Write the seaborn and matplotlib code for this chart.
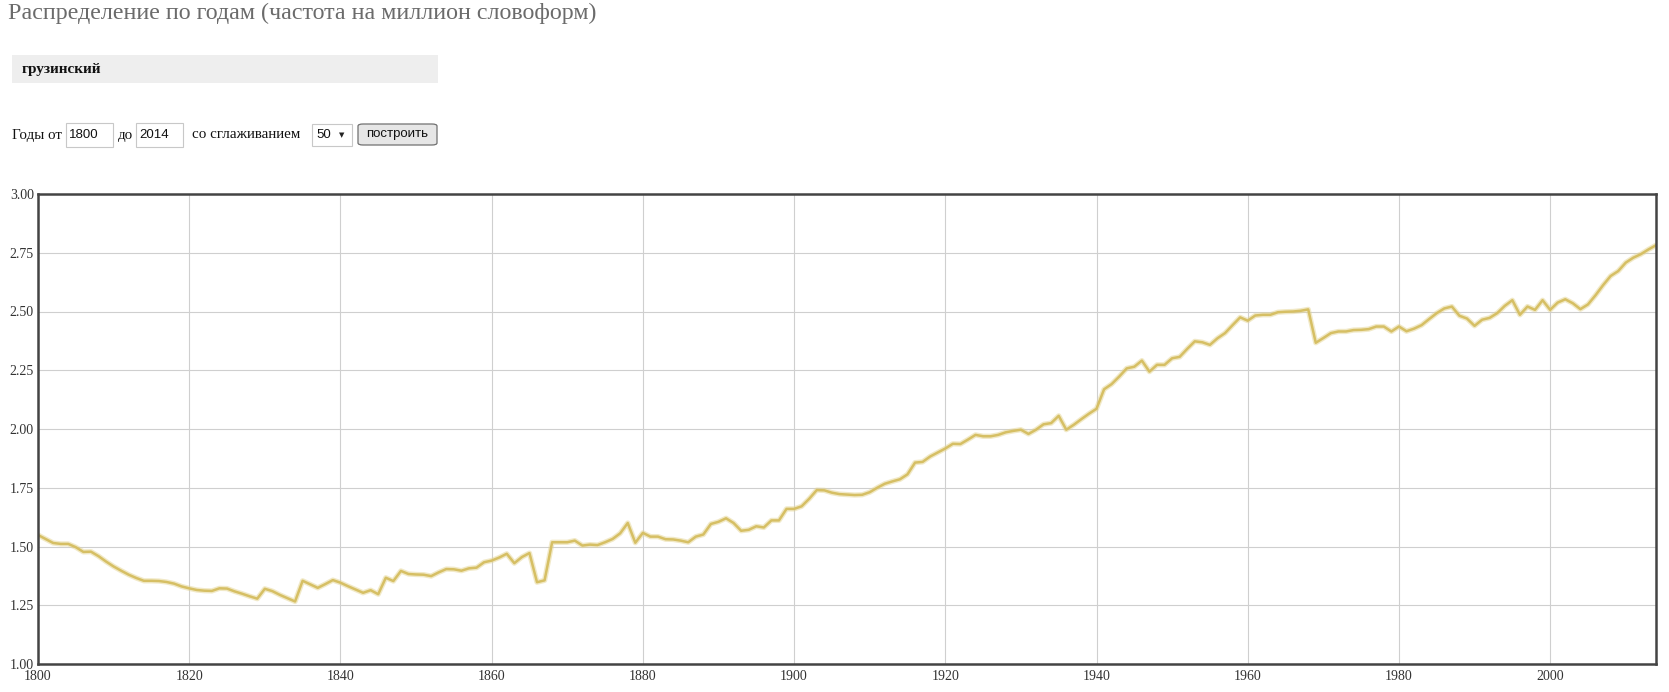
import numpy as np
import pandas as pd
import seaborn as sns
import matplotlib
matplotlib.use("Agg")
import matplotlib.pyplot as plt
from matplotlib.patches import Rectangle, FancyBboxPatch

# data (frequency per million word forms, smoothing 50)
years = list(range(1800, 2015))
freq = [
    1.549, 1.532, 1.515, 1.511, 1.511, 1.497, 1.477, 1.478, 1.459, 1.436,  # 1800s
    1.415, 1.397, 1.380, 1.366, 1.354, 1.354, 1.353, 1.349, 1.342, 1.330,  # 1810s
    1.322, 1.315, 1.312, 1.311, 1.322, 1.321, 1.309, 1.299, 1.288, 1.278,  # 1820s
    1.320, 1.310, 1.294, 1.280, 1.266, 1.354, 1.339, 1.324, 1.340, 1.357,  # 1830s
    1.346, 1.331, 1.317, 1.303, 1.314, 1.297, 1.367, 1.353, 1.396, 1.383,  # 1840s
    1.381, 1.380, 1.374, 1.390, 1.404, 1.403, 1.397, 1.407, 1.410, 1.433,  # 1850s
    1.440, 1.453, 1.469, 1.429, 1.455, 1.472, 1.348, 1.356, 1.518, 1.518,  # 1860s
    1.518, 1.525, 1.504, 1.508, 1.506, 1.518, 1.532, 1.556, 1.600, 1.516,  # 1870s
    1.558, 1.542, 1.542, 1.531, 1.530, 1.525, 1.518, 1.542, 1.551, 1.596,  # 1880s
    1.605, 1.620, 1.600, 1.567, 1.571, 1.586, 1.581, 1.611, 1.611, 1.660,  # 1890s
    1.660, 1.671, 1.703, 1.740, 1.739, 1.729, 1.723, 1.721, 1.719, 1.720,  # 1900s
    1.731, 1.750, 1.767, 1.777, 1.786, 1.807, 1.857, 1.860, 1.883, 1.900,  # 1910s
    1.917, 1.937, 1.936, 1.955, 1.975, 1.969, 1.969, 1.975, 1.986, 1.992,  # 1920s
    1.997, 1.979, 1.997, 2.020, 2.025, 2.056, 1.997, 2.018, 2.042, 2.065,  # 1930s
    2.086, 2.169, 2.191, 2.223, 2.258, 2.265, 2.291, 2.244, 2.273, 2.273,  # 1940s
    2.301, 2.307, 2.341, 2.373, 2.369, 2.358, 2.386, 2.408, 2.442, 2.475,  # 1950s
    2.461, 2.483, 2.486, 2.486, 2.497, 2.499, 2.500, 2.503, 2.509, 2.367,  # 1960s
    2.387, 2.408, 2.415, 2.415, 2.421, 2.422, 2.425, 2.436, 2.436, 2.415,  # 1970s
    2.436, 2.416, 2.427, 2.442, 2.468, 2.493, 2.513, 2.521, 2.482, 2.470,  # 1980s
    2.439, 2.465, 2.473, 2.493, 2.524, 2.548, 2.486, 2.521, 2.507, 2.548,  # 1990s
    2.507, 2.538, 2.552, 2.535, 2.510, 2.530, 2.569, 2.612, 2.651, 2.672,  # 2000s
    2.708, 2.729, 2.744, 2.764, 2.782,                                     # 2010s
]
x_ticks = list(range(1800, 2001, 20))
y_ticks = [1.00, 1.25, 1.50, 1.75, 2.00, 2.25, 2.50, 2.75, 3.00]

title = "Распределение по годам (частота на миллион словоформ)"
word = "грузинский"
year_from = "1800"
year_to = "2014"
smoothing = "50"

sns.set_style("white")
plt.rcParams['font.family'] = ['Liberation Serif', 'DejaVu Serif']

W, H = 1669, 692
fig = plt.figure(figsize=(W / 100, H / 100), dpi=100)


def px(x, y):
    # pixel position (from top-left) -> figure fraction
    return x / W, 1 - y / H


# header, drawn like the html form above the chart
fig.text(*px(8, 13), title, fontsize=17.3, color="#6b6b6b", va="center", ha="left")

fig.patches.append(Rectangle(px(12, 83), 426 / W, 28 / H, transform=fig.transFigure,
                             facecolor="#eeeeee", edgecolor="none"))
fig.text(*px(22, 69.5), word, fontsize=11, fontweight="bold", color="#111111", va="center")

row_y = 135
sans = ["Liberation Sans", "DejaVu Sans"]
fig.text(*px(12, row_y), "Годы от", fontsize=10.8, color="#111111", va="center")
for x0, x1, label in [(66, 113, year_from), (136, 183, year_to)]:
    fig.patches.append(Rectangle(px(x0, 147), (x1 - x0) / W, 24 / H, transform=fig.transFigure,
                                 facecolor="white", edgecolor="#c8c8c8", lw=0.8))
    fig.text(*px(x0 + 3, row_y), label, fontsize=9.5, color="#111111", va="center", family=sans)
fig.text(*px(118, row_y), "до", fontsize=10.8, color="#111111", va="center")
fig.text(*px(192, row_y), "со сглаживанием", fontsize=10.8, color="#111111", va="center")
fig.patches.append(Rectangle(px(312, 146), 40 / W, 22 / H, transform=fig.transFigure,
                             facecolor="white", edgecolor="#c8c8c8", lw=0.8))
fig.text(*px(316, row_y), smoothing, fontsize=9.5, color="#111111", va="center", family=sans)
fig.text(*px(342, row_y), "▼", fontsize=5, color="#222222", va="center", ha="center",
         family=["DejaVu Sans"])
fig.patches.append(FancyBboxPatch(px(358, 145), 79 / W, 21 / H, transform=fig.transFigure,
                                  boxstyle="round,pad=0,rounding_size=0.003",
                                  facecolor="#e6e6e6", edgecolor="#707070", lw=0.9))
fig.text(*px(397.5, 134.5), "построить", fontsize=9.5, color="#111111", va="center",
         ha="center", family=sans)

# chart
ax = fig.add_axes([38 / W, 1 - 664 / H, (1656 - 38) / W, (664 - 194) / H])
df = pd.DataFrame({"year": years, "freq": freq})
sns.lineplot(data=df, x="year", y="freq", ax=ax, color="#e4d490", lw=3.8, alpha=0.5)
sns.lineplot(data=df, x="year", y="freq", ax=ax, color="#d6bf64", lw=1.8)

ax.set_xlim(1800, 2014)
ax.set_ylim(1.0, 3.0)
ax.set_xticks(x_ticks)
ax.set_yticks(y_ticks)
ax.set_yticklabels([f"{v:.2f}" for v in y_ticks])
ax.set_xlabel("")
ax.set_ylabel("")
ax.grid(True, color="#cfcfcf", lw=0.8)
ax.set_axisbelow(True)
ax.tick_params(axis="both", length=0, labelsize=10, labelcolor="#333333")
ax.tick_params(axis="y", pad=3)
ax.tick_params(axis="x", pad=4)
for s in ax.spines.values():
    s.set_visible(True)
    s.set_color("#444444")
    s.set_linewidth(1.8)

fig.savefig("out.png", dpi=100)
